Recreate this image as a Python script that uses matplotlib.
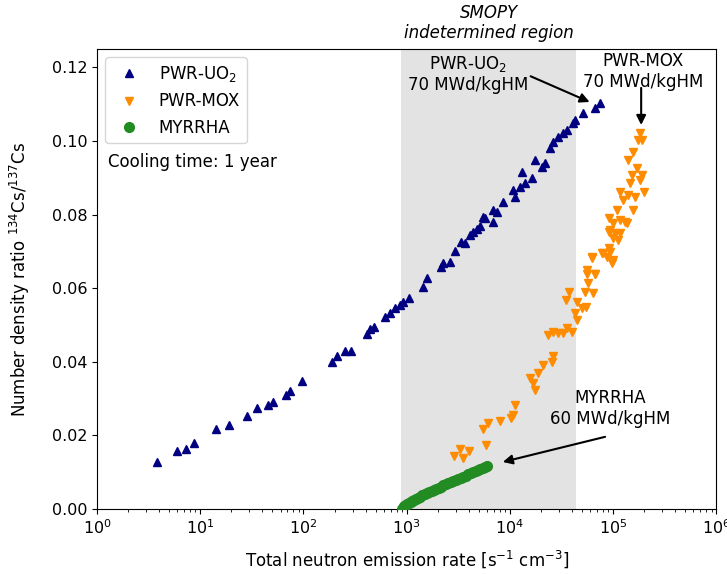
import numpy as np
import matplotlib
matplotlib.use("Agg")
import matplotlib.pyplot as plt

# PWR-UO2 points (neutron emission rate, Cs134/Cs137 ratio)
uo2_x = [3.79, 5.92, 7.28, 8.71, 14.2, 18.9, 28.6, 35.7, 45.7, 51.1, 67.8, 74.1, 96.9,
         189, 213, 253, 287, 410, 442, 486, 618, 691, 772, 863, 929, 1062, 1432, 1567,
         2140, 2270, 2636, 2946, 3343, 3680, 4115, 4430, 4776, 5145, 5750, 6920, 7470,
         5535, 6920, 8650, 10820, 11230, 12560, 13040, 14030, 16290, 17540, 20370,
         21950, 24540, 26420, 29540, 32990, 35560, 41220, 42830, 51560, 66950, 74800]
uo2_y = [0.0129, 0.0158, 0.0162, 0.0180, 0.0217, 0.0229, 0.0254, 0.0274, 0.0283, 0.0292,
         0.0311, 0.0321, 0.0349, 0.0399, 0.0416, 0.0430, 0.0430, 0.0476, 0.0488, 0.0495,
         0.0523, 0.0532, 0.0545, 0.0554, 0.0563, 0.0573, 0.0602, 0.0627, 0.0658, 0.0669,
         0.0672, 0.0702, 0.0726, 0.0722, 0.0745, 0.0754, 0.0760, 0.0769, 0.0790, 0.0781,
         0.0808, 0.0794, 0.0813, 0.0835, 0.0867, 0.0849, 0.0876, 0.0917, 0.0885, 0.0899,
         0.0948, 0.0930, 0.0939, 0.0980, 0.0998, 0.1012, 0.1021, 0.1030, 0.1048, 0.1057,
         0.1075, 0.1089, 0.1102]

# PWR-MOX points
mox_x = [2877, 3289, 3540, 4050, 5875, 5535, 6190, 8040, 10200, 10820, 11230, 15700,
         16900, 17540, 18890, 21120, 25470, 26050, 23610, 26420, 29540, 32990, 35560,
         39810, 44460, 42830, 49750, 54750, 44460, 34830, 37740, 53540, 57660, 64420,
         56360, 66950, 62230, 77670, 93480, 97090, 86880, 90150, 104500, 112500, 100700,
         135800, 182800, 176000, 189600, 157300, 140600, 169800, 151700, 189600, 146200,
         182800, 116900, 140600, 163300, 196800, 125900, 108600, 157300, 90150, 116900,
         130700, 93480, 116900, 100700, 90150, 62230, 80540, 100700, 55590, 66950]
mox_y = [0.0144, 0.0162, 0.0138, 0.0158, 0.0174, 0.0217, 0.0233, 0.0240, 0.0246, 0.0255,
         0.0283, 0.0355, 0.0342, 0.0323, 0.0369, 0.0391, 0.0400, 0.0416, 0.0473, 0.0482,
         0.0477, 0.0477, 0.0491, 0.0482, 0.0514, 0.0532, 0.0545, 0.0548, 0.0563, 0.0568,
         0.0590, 0.0590, 0.0613, 0.0586, 0.0640, 0.0640, 0.0681, 0.0695, 0.0699, 0.0668,
         0.0686, 0.0754, 0.0749, 0.0731, 0.0776, 0.0776, 0.1021, 0.1003, 0.1003, 0.0971,
         0.0948, 0.0926, 0.0908, 0.0908, 0.0885, 0.0894, 0.0862, 0.0853, 0.0849, 0.0862,
         0.0840, 0.0813, 0.0813, 0.0790, 0.0785, 0.0781, 0.0758, 0.0749, 0.0736, 0.0708,
         0.0686, 0.0695, 0.0677, 0.0649, 0.0640]

# MYRRHA points
myr_x = [905, 925, 950, 980, 1010, 1050, 1090, 1130, 1180, 1230, 1290, 1350, 1420, 1490,
         1570, 1650, 1740, 1830, 1930, 2040, 2150, 2270, 2400, 2540, 2690, 2840, 3000,
         3170, 3350, 3540, 3740, 3950, 4170, 4400, 4650, 4910, 5180, 5470, 5780, 6050]
myr_y = [0.0001, 0.0004, 0.0008, 0.0011, 0.0014, 0.0017, 0.0020, 0.0022, 0.0025, 0.0028,
         0.0031, 0.0034, 0.0037, 0.0040, 0.0043, 0.0046, 0.0049, 0.0052, 0.0055, 0.0058,
         0.0061, 0.0064, 0.0067, 0.0070, 0.0073, 0.0076, 0.0079, 0.0082, 0.0085, 0.0088,
         0.0091, 0.0094, 0.0097, 0.0100, 0.0103, 0.0106, 0.0109, 0.0111, 0.0114, 0.0117]

smopy_lo, smopy_hi = 890, 44000

plt.rcParams["font.size"] = 12

fig = plt.figure(figsize=(7.27, 5.74), dpi=100)
ax = fig.add_axes([0.1334, 0.1132, 0.852, 0.8014])

ax.axvspan(smopy_lo, smopy_hi, facecolor="#e3e3e3", edgecolor="none", zorder=0)
ax.plot(uo2_x, uo2_y, "^", color="navy", markersize=6, label="PWR-UO$_2$", zorder=3)
ax.plot(mox_x, mox_y, "v", color="darkorange", markersize=6, label="PWR-MOX", zorder=3)
ax.plot(myr_x, myr_y, "o", color="forestgreen", markersize=7, label="MYRRHA", zorder=3)

ax.set_xscale("log")
ax.set_xlim(1, 1e6)
ax.set_ylim(0, 0.125)
ax.set_yticks(np.arange(0, 0.121, 0.02))
ax.yaxis.set_major_formatter(matplotlib.ticker.FormatStrFormatter("%.2f"))
ax.tick_params(labelsize=11.5)
ax.set_xlabel("Total neutron emission rate [s$^{-1}$ cm$^{-3}$]", labelpad=8)
ax.set_ylabel("Number density ratio $^{134}$Cs/$^{137}$Cs", labelpad=14)

ax.legend(loc="upper left")
ax.text(0.018, 0.754, "Cooling time: 1 year", transform=ax.transAxes, va="center", ha="left")

ax.text(6200, 0.1268, "SMOPY\nindetermined region", style="italic", ha="center", va="bottom")

arrow = dict(arrowstyle="-|>", color="black", lw=1.5, mutation_scale=14)
ax.text(3940, 0.1182, "PWR-UO$_2$\n70 MWd/kgHM", ha="center", va="center")
ax.annotate("", xy=(62600, 0.1103), xytext=(15000, 0.1179), arrowprops=arrow)

ax.text(195000, 0.1188, "PWR-MOX\n70 MWd/kgHM", ha="center", va="center")
ax.annotate("", xy=(186800, 0.1036), xytext=(186800, 0.1152), arrowprops=arrow)

ax.text(93500, 0.0274, "MYRRHA\n60 MWd/kgHM", ha="center", va="center")
ax.annotate("", xy=(8040, 0.0126), xytext=(88700, 0.0198), arrowprops=arrow)

fig.savefig("out.png", dpi=100)
